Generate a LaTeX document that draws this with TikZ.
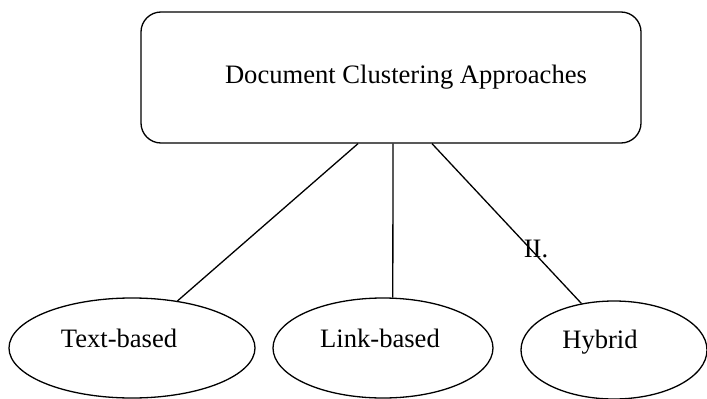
\documentclass[tikz,border=0pt]{standalone}
\usepackage{fontspec}
\setmainfont{Liberation Serif}
\usetikzlibrary{shapes.geometric}
\begin{document}
\begin{tikzpicture}[x=1pt,y=-1pt,
  line width=1.3pt,
  txt/.style={inner sep=0pt,anchor=base,font=\fontsize{26.6}{32}\selectfont},
  oval/.style={draw,ellipse,inner sep=0pt},
  conn/.style={draw,line width=1.3pt}]
\useasboundingbox (0,0) rectangle (707,399);
\node[draw,rounded corners=20pt,minimum width=500pt,minimum height=131pt,inner sep=0pt] (box) at (391,77.5) {};
\node[txt] (boxtxt) at (406,83) {Document Clustering Approaches};
\node[oval,minimum width=246pt,minimum height=100pt] (tb) at (132,348) {};
\node[oval,minimum width=220pt,minimum height=100pt] (lb) at (383,348) {};
\node[oval,minimum width=186pt,minimum height=98pt] (hy) at (614,350) {};
\node[txt] (tbt) at (119,347) {Text-based};
\node[txt] (lbt) at (380,347) {Link-based};
\node[txt] (hyt) at (600,348) {Hybrid};
\node[txt] (ii) at (536,257) {II.};
\draw[conn] ([xshift=-33pt]box.south) -- (tb.46);
\draw[conn] ([xshift=2pt]box.south) -- (lb.79);
\draw[conn] ([xshift=41pt]box.south) -- (hy.125);
\end{tikzpicture}
\end{document}
